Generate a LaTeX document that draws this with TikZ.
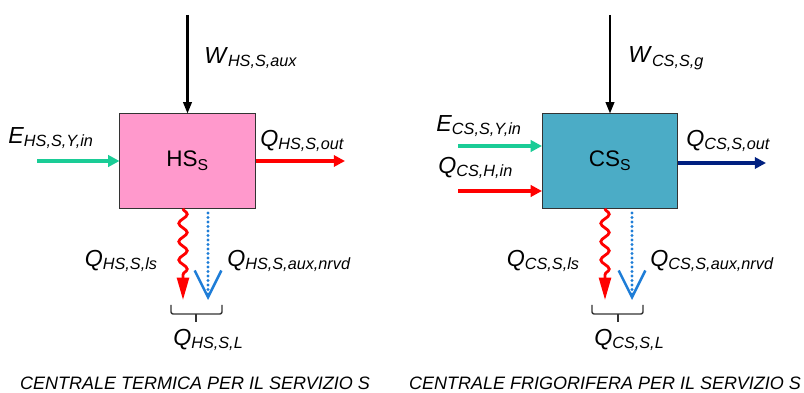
\documentclass[tikz,border=0pt]{standalone}
\usepackage{fontspec}
\setmainfont{Liberation Sans}
\usepackage{xcolor}
\definecolor{hspink}{RGB}{255,153,204}
\definecolor{csteal}{RGB}{75,172,198}
\definecolor{ingreen}{RGB}{26,204,150}
\definecolor{outnavy}{RGB}{0,32,128}
\definecolor{auxblue}{RGB}{30,125,215}
\usetikzlibrary{arrows.meta, positioning, calc, decorations.pathmorphing}
\newcommand{\qsym}[2]{\textit{#1}\textsubscript{\textit{#2}}}

\begin{document}
\begin{tikzpicture}[x=0.025cm, y=-0.025cm,
  unit/.style={rectangle, draw=black!80, line width=0.7pt, minimum width=3.375cm, minimum height=2.35cm, font=\fontsize{16}{19}\selectfont},
  qlabel/.style={inner sep=0pt, font=\fontsize{16.5}{19}\selectfont},
  caption/.style={inner sep=0pt, font=\fontsize{12.8}{15}\selectfont\itshape},
  work/.style={-{Triangle[length=8pt, width=6pt]}, line width=1.5pt},
  flow/.style={-{Triangle[length=8pt, width=8pt]}, line width=2.5pt},
  loss/.style={red, line width=2pt, -{Triangle[length=16pt, width=8.5pt]}, decorate,
    decoration={snake, amplitude=3pt, segment length=13pt, post length=16pt}},
  nrvd/.style={auxblue, line width=2.2pt, line cap=round, dash pattern=on 0pt off 3.2pt,
    -{Straight Barb[length=19pt, width=19pt, line width=1.8pt, line cap=butt]}},
  sumbrace/.style={black!80, line width=1pt, rounded corners=1.5pt}
]
\useasboundingbox (0,0) rectangle (804,393);

% Heating unit
\node[unit, fill=hspink] (hs) at (187.5,161) {HS\textsubscript{S}};
\coordinate (hswtop) at (187.5,15);
\coordinate (hsein) at (37,161);
\coordinate (hsqout) at (345,161);
\coordinate (hsls) at (183,300);
\coordinate (hsnrvdtop) at (208,213);
\coordinate (hsnrvd) at (208,300);
\coordinate (hsbl) at (171,305);
\coordinate (hsbr) at (222,305);
\coordinate (hsbtip) at (196,322);

\draw[work] (hswtop) -- (hs.north);
\draw[flow, ingreen] (hsein) -- (hs.west);
\draw[flow, red] (hs.east) -- (hsqout);
\draw[loss] (hs.south -| hsls) -- (hsls);
\draw[nrvd] (hsnrvdtop) -- (hsnrvd);
\draw[sumbrace] (hsbl) -- ++(0,9) -- ($(hsbr)+(0,9)$) -- (hsbr);
\draw[sumbrace] (hsbtip) -- (hsbtip |- 0,314);

\node[qlabel, anchor=west] (hswlbl) at (204,58) {\qsym{W}{HS,S,aux}};
\node[qlabel, anchor=west] (hselbl) at (8,138) {\qsym{E}{HS,S,Y,in}};
\node[qlabel, anchor=west] (hsoutlbl) at (260,141) {\qsym{Q}{HS,S,out}};
\node[qlabel, anchor=east] (hslslbl) at (158,261) {\qsym{Q}{HS,S,ls}};
\node[qlabel, anchor=west] (hsnrvdlbl) at (227,261) {\qsym{Q}{HS,S,aux,nrvd}};
\node[qlabel, anchor=west] (hsllbl) at (173,340) {\qsym{Q}{HS,S,L}};
\node[caption] (hscap) at (195,383) {CENTRALE TERMICA PER IL SERVIZIO S};

% Cooling unit
\node[unit, fill=csteal] (cs) at (610,161) {CS\textsubscript{S}};
\coordinate (cswtop) at (610,15);
\coordinate (csein) at (458,146);
\coordinate (csqin) at (458,191);
\coordinate (csqout) at (766,163);
\coordinate (csls) at (605,300);
\coordinate (csnrvdtop) at (632,213);
\coordinate (csnrvd) at (632,300);
\coordinate (csbl) at (592,305);
\coordinate (csbr) at (643,305);
\coordinate (csbtip) at (618,322);

\draw[work] (cswtop) -- (cs.north);
\draw[flow, ingreen] (csein) -- (csein -| cs.west);
\draw[flow, red] (csqin) -- (csqin -| cs.west);
\draw[flow, outnavy] (csqout -| cs.east) -- (csqout);
\draw[loss] (cs.south -| csls) -- (csls);
\draw[nrvd] (csnrvdtop) -- (csnrvd);
\draw[sumbrace] (csbl) -- ++(0,9) -- ($(csbr)+(0,9)$) -- (csbr);
\draw[sumbrace] (csbtip) -- (csbtip |- 0,314);

\node[qlabel, anchor=west] (cswlbl) at (628,58) {\qsym{W}{CS,S,g}};
\node[qlabel, anchor=west] (cselbl) at (436,126) {\qsym{E}{CS,S,Y,in}};
\node[qlabel, anchor=west] (csqinlbl) at (438,168) {\qsym{Q}{CS,H,in}};
\node[qlabel, anchor=west] (csoutlbl) at (686,141) {\qsym{Q}{CS,S,out}};
\node[qlabel, anchor=east] (cslslbl) at (580,261) {\qsym{Q}{CS,S,ls}};
\node[qlabel, anchor=west] (csnrvdlbl) at (650,261) {\qsym{Q}{CS,S,aux,nrvd}};
\node[qlabel, anchor=west] (csllbl) at (594,340) {\qsym{Q}{CS,S,L}};
\node[caption] (cscap) at (605,383) {CENTRALE FRIGORIFERA PER IL SERVIZIO S};

\end{tikzpicture}
\end{document}
